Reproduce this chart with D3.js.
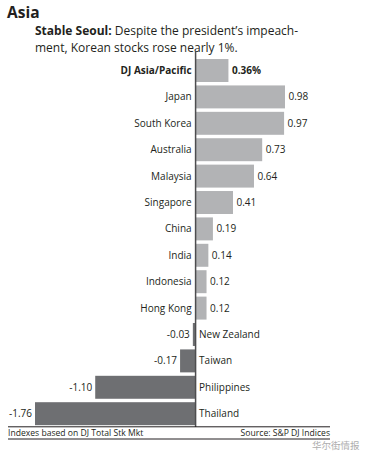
<!DOCTYPE html>
<html>
<head>
<meta charset="utf-8">
<script src="https://cdn.jsdelivr.net/npm/d3@7"></script>
<style>
  body { margin: 0; background: #fff; }
  svg { font-family: "Open Sans", "Noto Sans", sans-serif; }
</style>
</head>
<body>
<svg id="chart" width="369" height="454"></svg>
<script>
// data
var markets = ['DJ Asia/Pacific','Japan','South Korea','Australia','Malaysia','Singapore',
  'China','India','Indonesia','Hong Kong','New Zealand','Taiwan','Philippines','Thailand'];
var changes = [0.36, 0.98, 0.97, 0.73, 0.64, 0.41, 0.19, 0.14, 0.12, 0.12, -0.03, -0.17, -1.10, -1.76];
var valueLabels = ['0.36%','0.98','0.97','0.73','0.64','0.41','0.19','0.14','0.12','0.12',
  '-0.03','-0.17','-1.10','-1.76'];

var data = markets.map(function(m, i) {
  return {name: m, value: changes[i], label: valueLabels[i], bold: i == 0};
});

var svg = d3.select("#chart");

var lightGray = "#b2b3b5",
    darkGray = "#6e6f72",
    textColor = "#231f20";

var x = d3.scaleLinear()
    .domain([d3.min(changes), d3.max(changes)])
    .range([35, 285]);

var y = d3.scaleBand()
    .domain(markets)
    .range([55.6, 428.6])
    .padding(0.13);

// headline
svg.append("text")
  .attr("x", 7).attr("y", 18)
  .attr("font-size", 15.5).attr("font-weight", "bold")
  .attr("fill", textColor)
  .text("Asia");

var sub = svg.append("text")
  .attr("x", 35).attr("y", 35)
  .attr("font-size", 12)
  .attr("fill", textColor);
sub.append("tspan").attr("font-weight", "bold").text("Stable Seoul: ");
sub.append("tspan").text("Despite the president\u2019s impeach-");
svg.append("text")
  .attr("x", 35).attr("y", 52)
  .attr("font-size", 12)
  .attr("fill", textColor)
  .text("ment, Korean stocks rose nearly 1%.");

// bars
svg.append("g").selectAll("rect")
  .data(data)
  .enter().append("rect")
    .attr("x", function(d) { return x(Math.min(0, d.value)); })
    .attr("y", function(d) { return y(d.name); })
    .attr("width", function(d) { return Math.abs(x(d.value) - x(0)); })
    .attr("height", y.bandwidth())
    .attr("fill", function(d) { return d.value >= 0 ? lightGray : darkGray; });

// zero line
svg.append("line")
  .attr("x1", x(0)).attr("x2", x(0))
  .attr("y1", 51).attr("y2", 427)
  .attr("stroke", "#4d4d4f").attr("stroke-width", 1.5);

// market names
svg.append("g").selectAll("text")
  .data(data)
  .enter().append("text")
    .attr("x", function(d) { return d.value >= 0 ? x(0) - 4 : x(0) + 3.5; })
    .attr("y", function(d) { return y(d.name) + y.bandwidth() / 2; })
    .attr("dy", "0.35em")
    .attr("text-anchor", function(d) { return d.value >= 0 ? "end" : "start"; })
    .attr("font-size", 10)
    .attr("font-weight", function(d) { return d.bold ? "bold" : "normal"; })
    .attr("fill", textColor)
    .text(function(d) { return d.name; });

// values
svg.append("g").selectAll("text")
  .data(data)
  .enter().append("text")
    .attr("x", function(d) { return d.value >= 0 ? x(d.value) + 3.5 : x(d.value) - 3; })
    .attr("y", function(d) { return y(d.name) + y.bandwidth() / 2; })
    .attr("dy", "0.35em")
    .attr("text-anchor", function(d) { return d.value >= 0 ? "start" : "end"; })
    .attr("font-size", 10)
    .attr("font-weight", function(d) { return d.bold ? "bold" : "normal"; })
    .attr("fill", textColor)
    .text(function(d) { return d.label; });

// footer rules and notes
svg.append("line")
  .attr("x1", 8).attr("x2", 330).attr("y1", 426.8).attr("y2", 426.8)
  .attr("stroke", "#231f20").attr("stroke-width", 1);
svg.append("line")
  .attr("x1", 8).attr("x2", 330).attr("y1", 439).attr("y2", 439)
  .attr("stroke", "#231f20").attr("stroke-width", 1);

svg.append("text")
  .attr("x", 8).attr("y", 435.5)
  .attr("font-size", 8.6)
  .attr("fill", textColor)
  .text("Indexes based on DJ Total Stk Mkt");
svg.append("text")
  .attr("x", 330).attr("y", 435.5)
  .attr("text-anchor", "end")
  .attr("font-size", 8.6)
  .attr("fill", textColor)
  .text("Source: S&P DJ Indices");

// watermark, kept just under the rule so it does not sit on the source note
svg.append("text")
  .attr("x", 312).attr("y", 449)
  .attr("font-family", "Noto Sans CJK SC")
  .attr("font-size", 9.5)
  .attr("fill", "#9a9a9a")
  .attr("opacity", 0.8)
  .text("华尔街情报");
</script>
</body>
</html>
